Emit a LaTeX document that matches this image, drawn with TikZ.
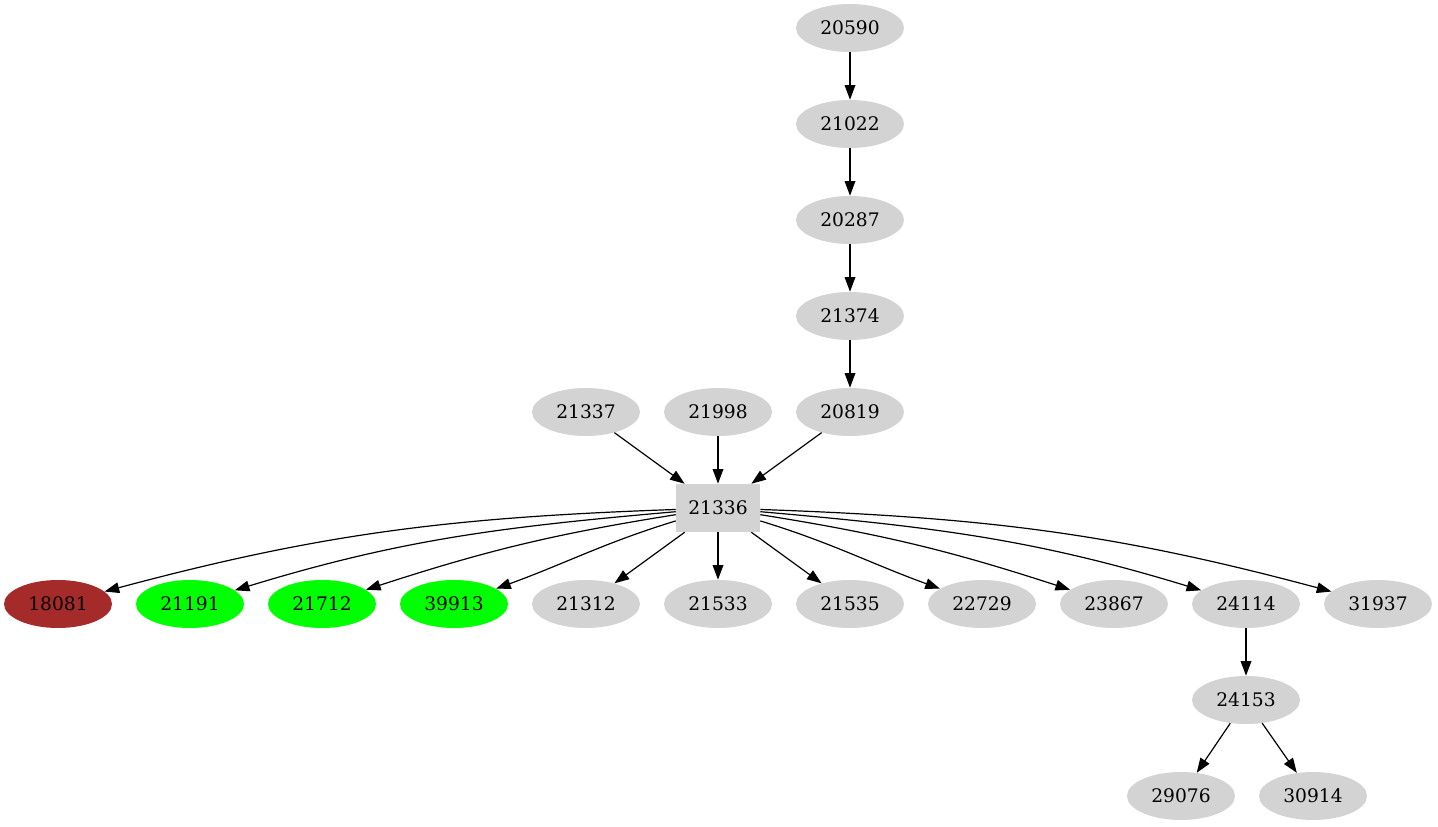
\documentclass[tikz,border=0pt]{standalone}
\usepackage{fontspec}
\setmainfont{DejaVu Serif}
\usetikzlibrary{shapes.geometric,arrows.meta}
\definecolor{nodegray}{HTML}{D3D3D3}
\definecolor{nodegreen}{HTML}{00FF00}
\definecolor{nodebrown}{HTML}{A52A2A}
\begin{document}
\begin{tikzpicture}[x=0.75pt,y=-0.75pt]
	\tikzset{every node/.style={font=\fontsize{14}{16}\selectfont,inner sep=0pt}}
	\tikzset{vertex/.style={ellipse,fill=nodegray,minimum width=81pt,minimum height=36pt}}
	\tikzset{hubbox/.style={rectangle,fill=nodegray,minimum width=63pt,minimum height=36pt}}
	\tikzset{edge/.style={-{Triangle[length=11pt,width=8pt]},line width=0.9pt}}
	\useasboundingbox (0,0) rectangle (1438,827);
	% chain on top
	\node[vertex] (n20590) at (850,28) {20590};
	\node[vertex] (n21022) at (850,124) {21022};
	\node[vertex] (n20287) at (850,220) {20287};
	\node[vertex] (n21374) at (850,316) {21374};
	\node[vertex] (n20819) at (850,412) {20819};
	\node[vertex] (n21337) at (586,412) {21337};
	\node[vertex] (n21998) at (718,412) {21998};
	\node[hubbox] (n21336) at (718,508) {21336};
	% bottom row
	\node[vertex,fill=nodebrown] (n18081) at (58,604) {18081};
	\node[vertex,fill=nodegreen] (n21191) at (190,604) {21191};
	\node[vertex,fill=nodegreen] (n21712) at (322,604) {21712};
	\node[vertex,fill=nodegreen] (n39913) at (454,604) {39913};
	\node[vertex] (n21312) at (586,604) {21312};
	\node[vertex] (n21533) at (718,604) {21533};
	\node[vertex] (n21535) at (850,604) {21535};
	\node[vertex] (n22729) at (982,604) {22729};
	\node[vertex] (n23867) at (1114,604) {23867};
	\node[vertex] (n24114) at (1246,604) {24114};
	\node[vertex] (n31937) at (1378,604) {31937};
	\node[vertex] (n24153) at (1246,700) {24153};
	\node[vertex] (n29076) at (1181,796) {29076};
	\node[vertex] (n30914) at (1313,796) {30914};
	% edges
	\draw[edge] (n20590) -- (n21022);
	\draw[edge] (n21022) -- (n20287);
	\draw[edge] (n20287) -- (n21374);
	\draw[edge] (n21374) -- (n20819);
	\draw[edge] (n21337) -- (n21336);
	\draw[edge] (n21998) -- (n21336);
	\draw[edge] (n20819) -- (n21336);
	\draw[edge] (n21336) to[out=182,in=15] (n18081);
	\draw[edge] (n21336) to[out=185,in=17] (n21191);
	\draw[edge] (n21336) to[out=189,in=18] (n21712);
	\draw[edge] (n21336) to[out=197,in=20] (n39913);
	\draw[edge] (n21336) -- (n21312);
	\draw[edge] (n21336) -- (n21533);
	\draw[edge] (n21336) -- (n21535);
	\draw[edge] (n21336) to[out=-17,in=160] (n22729);
	\draw[edge] (n21336) to[out=-9,in=162] (n23867);
	\draw[edge] (n21336) to[out=-5,in=163] (n24114);
	\draw[edge] (n21336) to[out=-2,in=165] (n31937);
	\draw[edge] (n24114) -- (n24153);
	\draw[edge] (n24153) -- (n29076);
	\draw[edge] (n24153) -- (n30914);
\end{tikzpicture}
\end{document}
